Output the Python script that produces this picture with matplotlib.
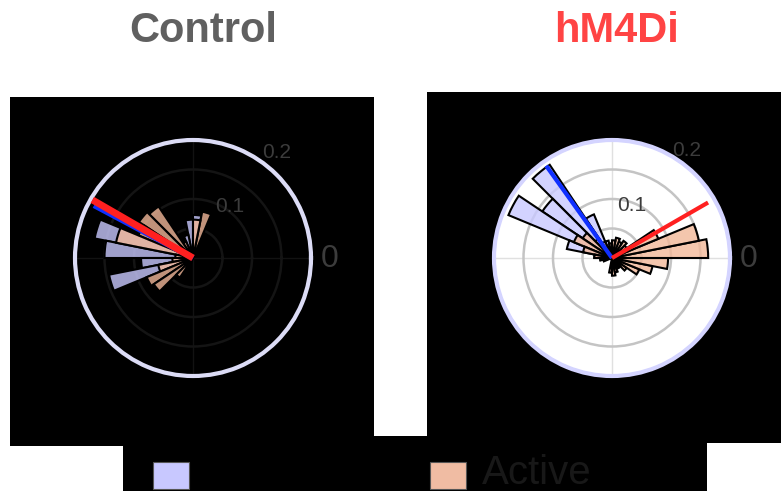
import numpy as np
import matplotlib.pyplot as plt
from matplotlib.patches import Rectangle

# figure size in pixels
W, H = 781, 491

bin_width = 11.25  # degrees, 32 bins

# Control: histogram bins (start angle, deg) and fractions
ctrl_inactive_start = [78.75, 90, 101.25, 112.5, 157.5, 168.75, 180, 191.25, 202.5]
ctrl_inactive_frac = [0.073, 0.065, 0.04, 0.02, 0.17, 0.15, 0.088, 0.145, 0.03]
ctrl_active_start = [67.5, 78.75, 112.5, 123.75, 135, 146.25, 157.5, 168.75, 180,
                     191.25, 202.5, 213.75, 225, 236.25]
ctrl_active_frac = [0.08, 0.065, 0.03, 0.105, 0.11, 0.1, 0.133, 0.03, 0.035,
                    0.06, 0.085, 0.08, 0.04, 0.02]

# hM4Di
hm_inactive_start = [101.25, 112.5, 123.75, 135, 146.25, 157.5, 168.75, 180]
hm_inactive_frac = [0.03, 0.08, 0.19, 0.142, 0.19, 0.078, 0.03, 0.02]
hm_active_start = [315, 326.25, 337.5, 348.75, 0, 11.25, 22.5, 33.75, 45, 56.25,
                   67.5, 78.75, 90, 101.25, 112.5, 123.75, 135, 146.25, 157.5,
                   168.75, 180, 191.25, 258.75, 270, 281.25, 292.5, 303.75]
hm_active_frac = [0.03, 0.05, 0.07, 0.095, 0.163, 0.15, 0.085, 0.03, 0.035, 0.03,
                  0.035, 0.03, 0.025, 0.02, 0.03, 0.04, 0.06, 0.07, 0.05,
                  0.03, 0.02, 0.015, 0.025, 0.03, 0.025, 0.02, 0.02]

# mean vectors (angle deg, length)
ctrl_vec_angle = {"inactive": 152, "active": 150}
ctrl_vec_len = {"inactive": 0.19, "active": 0.197}
hm_vec_angle = {"inactive": 125.5, "active": 30}
hm_vec_len = {"inactive": 0.192, "active": 0.188}

titles = ["Control", "hM4Di"]
title_colors = ["#606060", "#ff4444"]
legend_labels = ["", "Active"]

lav = (0.79, 0.79, 1.0, 0.8)
peach = (0.95, 0.72, 0.6, 0.8)


def px_rect(x0, y0, x1, y1, **kw):
    return Rectangle((x0 / W, 1 - y1 / H), (x1 - x0) / W, (y1 - y0) / H,
                     transform=fig.transFigure, **kw)


fig = plt.figure(figsize=(W / 100, H / 100), dpi=100)
fig.patch.set_facecolor("white")

# black backgrounds
for r in [(10, 97, 374, 446), (427, 92, 781, 443), (123, 436, 707, 491)]:
    fig.add_artist(px_rect(*r, facecolor="black", edgecolor="none", zorder=-1))


def polar_panel(cx, cy, face, spine_col, ring_col, spoke_col,
                ib_start, ib_frac, ab_start, ab_frac, vang, vlen, lab_off, lws):
    R = 118
    ax = fig.add_axes([(cx - R) / W, 1 - (cy + R) / H, 2 * R / W, 2 * R / H],
                      projection="polar")
    ax.set_facecolor(face)
    ax.set_ylim(0, 0.2)
    ax.set_yticks([0.05, 0.1, 0.15, 0.2])
    ax.set_yticklabels([])
    ax.set_xticks(np.deg2rad([0, 90, 180, 270]))
    ax.set_xticklabels([])
    ax.yaxis.grid(True, color=ring_col, lw=1.8)
    ax.xaxis.grid(True, color=spoke_col, lw=1.0)
    ax.spines["polar"].set_color(spine_col)
    ax.spines["polar"].set_linewidth(3)

    w = np.deg2rad(bin_width)
    ax.bar(np.deg2rad(ib_start), ib_frac, width=w, align="edge",
           facecolor=lav, edgecolor="black", linewidth=1.5, zorder=2)
    ax.bar(np.deg2rad(ab_start), ab_frac, width=w, align="edge",
           facecolor=peach, edgecolor="black", linewidth=1.5, zorder=3)
    ax.plot([0, np.deg2rad(vang["inactive"])], [0, vlen["inactive"]],
            color="#1030ff", lw=lws[0], zorder=4, solid_capstyle="butt")
    ax.plot([0, np.deg2rad(vang["active"])], [0, vlen["active"]],
            color="#ff2020", lw=lws[1], zorder=5, solid_capstyle="butt")

    # radius labels and angle label, placed by pixel offset from centre
    for txt, (dx, dy), size in [("0.1", lab_off[0], 15), ("0.2", lab_off[1], 15),
                                ("0", (137, -1), 23)]:
        th = np.arctan2(dy, dx)
        rr = np.hypot(dx, dy) / R * 0.2
        ax.text(th, rr, txt, ha="center", va="center", fontsize=size,
                color="#3c3c3c", clip_on=False, zorder=6,
                family="Liberation Sans")
    return ax


polar_panel(193, 258, "none", "#dcdcf6", "#141414", "#121212",
            ctrl_inactive_start, ctrl_inactive_frac,
            ctrl_active_start, ctrl_active_frac,
            ctrl_vec_angle, ctrl_vec_len, [(37, 51), (84, 106)], (4, 5))
polar_panel(612, 258, "white", "#d4d4ff", "#c4c4c4", "#e0e0e0",
            hm_inactive_start, hm_inactive_frac,
            hm_active_start, hm_active_frac,
            hm_vec_angle, hm_vec_len, [(20, 52), (75, 108)], (3, 3))

# titles
for t, c, x in zip(titles, title_colors, [203, 617]):
    fig.text(x / W, 1 - 31 / H, t, ha="center", va="center", fontsize=30,
             fontweight="bold", color=c, family="Liberation Sans")

# legend
fig.add_artist(px_rect(153, 462, 189, 489, facecolor="#c8c8ff",
                       edgecolor="#555555", lw=0.8, zorder=2))
fig.add_artist(px_rect(430, 462, 466, 489, facecolor="#f0bca3",
                       edgecolor="#555555", lw=0.8, zorder=2))
fig.text(482 / W, 1 - 473 / H, legend_labels[1], ha="left", va="center",
         fontsize=29, color="#181818", family="Liberation Sans")

fig.savefig("out.png", dpi=100)
